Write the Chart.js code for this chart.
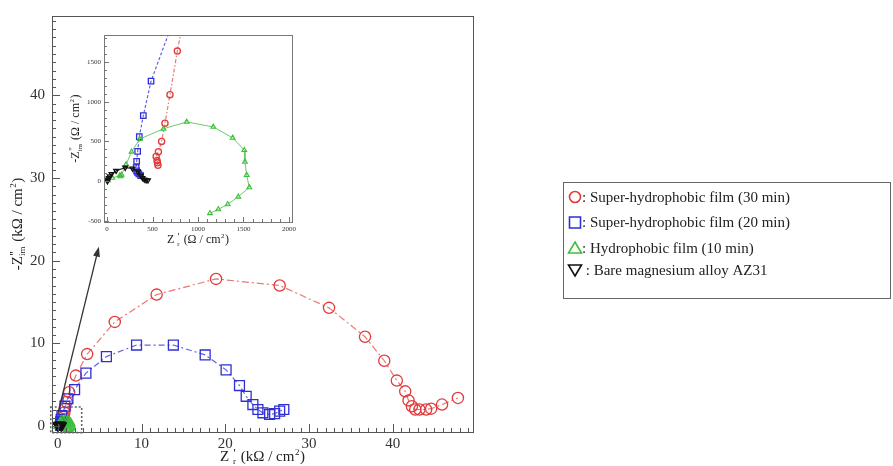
<!DOCTYPE html>
<html><head><meta charset="utf-8">
<script src="https://cdn.jsdelivr.net/npm/chart.js@4/dist/chart.umd.min.js"></script>
<style>
html,body{margin:0;padding:0;background:#fff;}
#wrap{position:relative;width:893px;height:466px;overflow:hidden;}
#main{position:absolute;left:0;top:0;}
#inset{position:absolute;left:66px;top:28px;}
</style></head><body>
<div id="wrap"><canvas id="main" width="893" height="466"></canvas><canvas id="inset" width="234" height="228"></canvas></div>
<script>
// ---------------- DATA (kΩ·cm²) ----------------
const seriesNames = ['Super-hydrophobic film (30 min)','Super-hydrophobic film (20 min)','Hydrophobic film (10 min)','Bare magnesium alloy AZ31'];

const sh30Re = [0.56,0.555,0.55,0.54,0.565,0.60,0.637,0.692,0.773,0.85,1.05,1.35,2.15,3.5,6.8,11.8,18.9,26.5,32.4,36.7,39.0,40.5,41.5,41.9,42.3,42.7,43.2,44.0,44.6,45.9,47.8];
const sh30Im = [0.20,0.23,0.26,0.31,0.37,0.50,0.73,1.09,1.64,2.1,2.9,4.1,6.1,8.7,12.6,15.9,17.8,17.0,14.3,10.8,7.9,5.5,4.2,3.1,2.4,2.0,2.0,2.0,2.1,2.6,3.4];

const sh20Re = [0.37,0.35,0.335,0.325,0.32,0.326,0.337,0.355,0.399,0.484,0.85,1.2,2.0,3.35,5.8,9.4,13.8,17.6,20.1,21.7,22.5,23.3,23.9,24.5,25.3,25.9,26.5,27.0];
const sh20Im = [0.07,0.09,0.11,0.13,0.17,0.25,0.375,0.56,0.825,1.26,2.4,3.3,4.4,6.4,8.4,9.8,9.8,8.6,6.8,4.9,3.6,2.6,2.0,1.6,1.4,1.5,1.8,2.0];

const h10Re = [0.012,0.06,0.14,0.15,0.16,0.21,0.27,0.36,0.62,0.876,1.168,1.381,1.509,1.516,1.535,1.564,1.443,1.326,1.223,1.132];
const h10Im = [0.01,0.04,0.07,0.06,0.08,0.21,0.37,0.53,0.66,0.746,0.683,0.545,0.39,0.243,0.075,-0.079,-0.197,-0.293,-0.356,-0.406];

const bareRe = [0.005,0.01,0.02,0.03,0.05,0.1,0.2,0.28,0.34,0.37,0.39,0.41,0.43,0.45];
const bareIm = [0.0,0.02,0.04,0.06,0.09,0.13,0.17,0.16,0.12,0.07,0.04,0.02,0.01,0.01];

// axis ranges & ticks
const mainXRange = [-0.7, 49.6], mainYRange = [-0.72, 49.6];
const mainXTicks = [0,10,20,30,40], mainYTicks = [0,10,20,30,40];
const insetXRange = [-33, 2033], insetYRange = [-516, 1840];
const insetXTicks = [0,500,1000,1500,2000], insetYTicks = [-500,0,500,1000,1500];

// annotation geometry in data units (main chart, kΩ)
const zoomBoxX = [-0.85, 2.85], zoomBoxY = [-0.8, 2.3];
const arrowFrom = [0.0, 1.5], arrowTo = [4.9, 21.7];

// ---------------- helpers ----------------
const SERIF = '"Liberation Serif", "DejaVu Serif", serif';
function pts(xs, ys, k) { return xs.map((v, i) => ({x: v * k, y: ys[i] * k})); }

function drawRich(ctx, segs, cx, cy, size, rot, color) {
  ctx.save();
  ctx.translate(cx, cy);
  if (rot) ctx.rotate(rot);
  ctx.fillStyle = color;
  ctx.textBaseline = 'alphabetic';
  ctx.textAlign = 'left';
  const small = Math.round(size * 0.62);
  const fN = size + 'px ' + SERIF, fS = small + 'px ' + SERIF, fP = Math.round(size * 0.8) + 'px ' + SERIF;
  const widths = segs.map(s => {
    if (typeof s === 'string') { ctx.font = fN; return ctx.measureText(s).width; }
    ctx.font = s.prime ? fP : fS; const w1 = s.sup ? ctx.measureText(s.sup).width : 0;
    ctx.font = fS; const w2 = s.sub ? ctx.measureText(s.sub).width : 0;
    return Math.max(w1, w2) + 1;
  });
  const total = widths.reduce((a, b) => a + b, 0);
  let x = -total / 2; const base = size * 0.35;
  segs.forEach((s, i) => {
    if (typeof s === 'string') { ctx.font = fN; ctx.fillText(s, x, base); }
    else {
      if (s.sup) { ctx.font = s.prime ? fP : fS; ctx.fillText(s.sup, x + 0.5, base - size * (s.prime ? 0.28 : 0.42)); }
      ctx.font = fS;
      if (s.sub) ctx.fillText(s.sub, x, base + size * 0.2);
    }
    x += widths[i];
  });
  ctx.restore();
}

function decor(cfg) {
  return {
    id: 'decor',
    afterDraw(chart) {
      const {ctx, chartArea: a, scales: {x, y}} = chart;
      ctx.save();
      ctx.strokeStyle = cfg.frame; ctx.lineWidth = 1;
      ctx.strokeRect(Math.round(a.left) + 0.5, Math.round(a.top) + 0.5, Math.round(a.right - a.left), Math.round(a.bottom - a.top));
      ctx.beginPath();
      const xs = cfg.minor;
      for (let i = Math.ceil(x.min / xs); i <= Math.floor(x.max / xs); i++) {
        const v = i * xs; const px = Math.round(x.getPixelForValue(v)) + 0.5;
        const len = cfg.xMajor.includes(v) ? cfg.majLen : cfg.minLen;
        ctx.moveTo(px, a.bottom); ctx.lineTo(px, a.bottom - len);
      }
      for (let i = Math.ceil(y.min / xs); i <= Math.floor(y.max / xs); i++) {
        const v = i * xs; const py = Math.round(y.getPixelForValue(v)) + 0.5;
        const len = cfg.yMajor.includes(v) ? cfg.majLen : cfg.minLen;
        ctx.moveTo(a.left, py); ctx.lineTo(a.left + len, py);
      }
      ctx.stroke();
      ctx.restore();
      const cxm = (a.left + a.right) / 2, cym = (a.top + a.bottom) / 2;
      drawRich(ctx, ['Z ', {sup: "'", sub: 'r', prime: true}, ' (' + cfg.unit + ' / cm', {sup: '2'}, ')'], cxm, cfg.xTitleY, cfg.titleSize, 0, '#222');
      drawRich(ctx, ['-Z', {sup: "''", sub: 'im', prime: true}, ' (' + cfg.unit + ' / cm', {sup: '2'}, ')'], cfg.yTitleX, cym, cfg.titleSize, -Math.PI / 2, '#222');
      if (cfg.extra) cfg.extra(chart);
    }
  };
}

const colors = {
  red: '#e03a3a', redLine: 'rgba(226,96,96,0.85)',
  blue: '#2f2fd4', blueLine: 'rgba(70,70,222,0.85)',
  green: '#3cbf3c', greenLine: 'rgba(90,200,90,0.9)',
  black: '#111111', blackLine: '#222222'
};

function datasets(k, big) {
  const r = big ? 1 : 0.55;
  return [
    {label: seriesNames[3], data: pts(bareRe, bareIm, k), showLine: true, borderColor: colors.blackLine, borderWidth: big ? 1.3 : 1.2,
     pointStyle: 'triangle', rotation: 180, pointRadius: 5 * r, pointBorderColor: colors.black, pointBackgroundColor: 'rgba(0,0,0,0)', pointBorderWidth: 1.3},
    {label: seriesNames[2], data: pts(h10Re, h10Im, k), showLine: true, borderColor: colors.greenLine, borderWidth: 1,
     pointStyle: 'triangle', pointRadius: 5 * r, pointBorderColor: colors.green, pointBackgroundColor: 'rgba(0,0,0,0)', pointBorderWidth: 1.1},
    {label: seriesNames[1], data: pts(sh20Re, sh20Im, k), showLine: true, borderColor: colors.blueLine, borderWidth: 1.2, borderDash: big ? [6,3,2,3] : [3,2],
     pointStyle: 'rect', pointRadius: 7 * r, pointBorderColor: colors.blue, pointBackgroundColor: 'rgba(0,0,0,0)', pointBorderWidth: 1.3},
    {label: seriesNames[0], data: pts(sh30Re, sh30Im, k), showLine: true, borderColor: colors.redLine, borderWidth: 1.2, borderDash: big ? [7,3,2,3] : [4,2,1.5,2],
     pointStyle: 'circle', pointRadius: 5.6 * r, pointBorderColor: colors.red, pointBackgroundColor: 'rgba(0,0,0,0)', pointBorderWidth: 1.3}
  ];
}

function scaleOpts(range, ticks, w, h, fontSize, pad, axis) {
  return {
    type: 'linear', min: range[0], max: range[1],
    afterBuildTicks: s => { s.ticks = ticks.map(v => ({value: v})); },
    afterFit: s => { if (axis === 'y') s.width = w; else s.height = h; },
    grid: {display: false, drawTicks: false},
    border: {display: false},
    ticks: {font: {family: SERIF, size: fontSize}, color: '#333', padding: pad, maxRotation: 0, autoSkip: false,
            callback: v => String(v)},
    title: {display: false}
  };
}

function legendAndArrows(chart) {
  const {ctx, scales: {x, y}} = chart;
  // dotted zoom box
  ctx.save();
  ctx.strokeStyle = '#666'; ctx.lineWidth = 1.6; ctx.setLineDash([2, 2]);
  const bx0 = x.getPixelForValue(zoomBoxX[0]), bx1 = x.getPixelForValue(zoomBoxX[1]);
  const by0 = y.getPixelForValue(zoomBoxY[0]), by1 = y.getPixelForValue(zoomBoxY[1]);
  ctx.strokeRect(bx0, by1, bx1 - bx0, by0 - by1);
  ctx.setLineDash([]);
  // arrow
  const ax0 = x.getPixelForValue(arrowFrom[0]), ay0 = y.getPixelForValue(arrowFrom[1]);
  const ax1 = x.getPixelForValue(arrowTo[0]), ay1 = y.getPixelForValue(arrowTo[1]);
  ctx.strokeStyle = '#333'; ctx.fillStyle = '#333'; ctx.lineWidth = 1.3;
  const ang = Math.atan2(ay1 - ay0, ax1 - ax0);
  ctx.beginPath(); ctx.moveTo(ax0, ay0); ctx.lineTo(ax1 - 8 * Math.cos(ang), ay1 - 8 * Math.sin(ang)); ctx.stroke();
  ctx.beginPath();
  ctx.moveTo(ax1, ay1);
  ctx.lineTo(ax1 - 10 * Math.cos(ang) + 3.5 * Math.sin(ang), ay1 - 10 * Math.sin(ang) - 3.5 * Math.cos(ang));
  ctx.lineTo(ax1 - 10 * Math.cos(ang) - 3.5 * Math.sin(ang), ay1 - 10 * Math.sin(ang) + 3.5 * Math.cos(ang));
  ctx.closePath(); ctx.fill();
  // legend box
  ctx.strokeStyle = '#666'; ctx.lineWidth = 1;
  ctx.strokeRect(563.5, 182.5, 327, 116);
  const rows = [197, 222.5, 248, 270];
  const mk = [colors.red, colors.blue, colors.green, colors.black];
  ctx.font = '15px ' + SERIF; ctx.textBaseline = 'middle'; ctx.textAlign = 'left';
  seriesNames.forEach((name, i) => {
    const cy = rows[i], cx = 575;
    ctx.strokeStyle = mk[i]; ctx.lineWidth = 1.6;
    ctx.beginPath();
    if (i === 0) ctx.arc(cx, cy, 5.5, 0, Math.PI * 2);
    else if (i === 1) ctx.rect(cx - 5.5, cy - 5.5, 11, 11);
    else if (i === 2) { ctx.moveTo(cx, cy - 6); ctx.lineTo(cx + 6.5, cy + 5); ctx.lineTo(cx - 6.5, cy + 5); ctx.closePath(); }
    else { ctx.moveTo(cx, cy + 6); ctx.lineTo(cx + 6.5, cy - 5); ctx.lineTo(cx - 6.5, cy - 5); ctx.closePath(); }
    ctx.stroke();
    ctx.fillStyle = '#222';
    ctx.fillText((i === 3 ? ' : ' : ': ') + name, 582, cy + 1);
  });
  ctx.restore();
}

Chart.defaults.font.family = SERIF;

new Chart(document.getElementById('main'), {
  type: 'scatter',
  data: {datasets: datasets(1, true)},
  options: {
    responsive: false, animation: false, devicePixelRatio: 1,
    layout: {padding: {left: 0, top: 12, right: 420, bottom: 0}},
    plugins: {legend: {display: false}, tooltip: {enabled: false}},
    scales: {
      x: scaleOpts(mainXRange, mainXTicks, 52, 34, 15, 3, 'x'),
      y: scaleOpts(mainYRange, mainYTicks, 52, 34, 15, 7, 'y')
    }
  },
  plugins: [decor({frame: '#555', minor: 1, xMajor: mainXTicks, yMajor: mainYTicks, majLen: 8, minLen: 4,
    unit: 'k\u03A9', titleSize: 15, xTitleY: 456, yTitleX: 17, extra: legendAndArrows})]
});

new Chart(document.getElementById('inset'), {
  type: 'scatter',
  data: {datasets: datasets(1000, false)},
  options: {
    responsive: false, animation: false, devicePixelRatio: 1,
    layout: {padding: {left: 0, top: 7, right: 8, bottom: 0}},
    plugins: {legend: {display: false}, tooltip: {enabled: false}},
    scales: {
      x: scaleOpts(insetXRange, insetXTicks, 38, 34, 7, 3, 'x'),
      y: scaleOpts(insetYRange, insetYTicks, 38, 34, 7, 3, 'y')
    }
  },
  plugins: [decor({frame: '#777', minor: 100, xMajor: insetXTicks, yMajor: insetYTicks, majLen: 5, minLen: 3,
    unit: '\u03A9', titleSize: 12, xTitleY: 211, yTitleX: 9})]
});
</script>
</body></html>
